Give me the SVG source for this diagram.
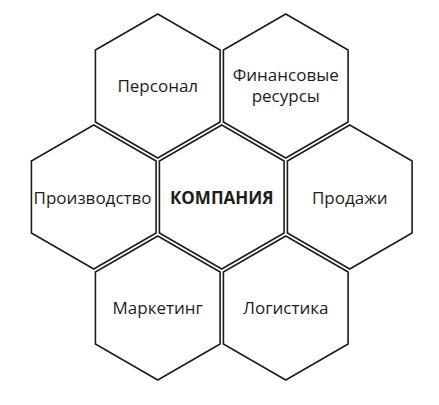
<svg xmlns="http://www.w3.org/2000/svg" xmlns:xlink="http://www.w3.org/1999/xlink" width="439" height="405" viewBox="0 0 439 405">
<style>
.hex{fill:#fff;stroke:#1d1d1b;stroke-width:1.6;stroke-linejoin:miter}
.t{font-family:"Open Sans","Liberation Sans",sans-serif;font-size:17px;fill:#1d1d1b;text-anchor:middle}
.b{font-weight:bold}
</style>
<defs>
<polygon id="hx" class="hex" points="0,-72 62.35,-36 62.35,36 0,72 -62.35,36 -62.35,-36"/>
</defs>
<rect width="439" height="405" fill="#fff"/>
<g id="connectors"/>
<g id="personal" transform="translate(157.75,86)">
<use xlink:href="#hx" href="#hx"/>
<text class="t" x="0" y="6.3">Персонал</text>
</g>
<g id="finance" transform="translate(285.75,86)">
<use xlink:href="#hx" href="#hx"/>
<text class="t" x="0" y="-5.3">Финансовые</text>
<text class="t" x="0" y="15.7">ресурсы</text>
</g>
<g id="production" transform="translate(93.75,197)">
<use xlink:href="#hx" href="#hx"/>
<text class="t" x="-1.2" y="6.8">Производство</text>
</g>
<g id="company" transform="translate(221.75,197)">
<use xlink:href="#hx" href="#hx"/>
<text class="t b" x="0" y="6.5">КОМПАНИЯ</text>
</g>
<g id="sales" transform="translate(349.75,197)">
<use xlink:href="#hx" href="#hx"/>
<text class="t" x="0" y="6.5">Продажи</text>
</g>
<g id="marketing" transform="translate(157.75,308)">
<use xlink:href="#hx" href="#hx"/>
<text class="t" x="0" y="5.5">Маркетинг</text>
</g>
<g id="logistics" transform="translate(285.75,308)">
<use xlink:href="#hx" href="#hx"/>
<text class="t" x="0" y="5.5">Логистика</text>
</g>
</svg>
